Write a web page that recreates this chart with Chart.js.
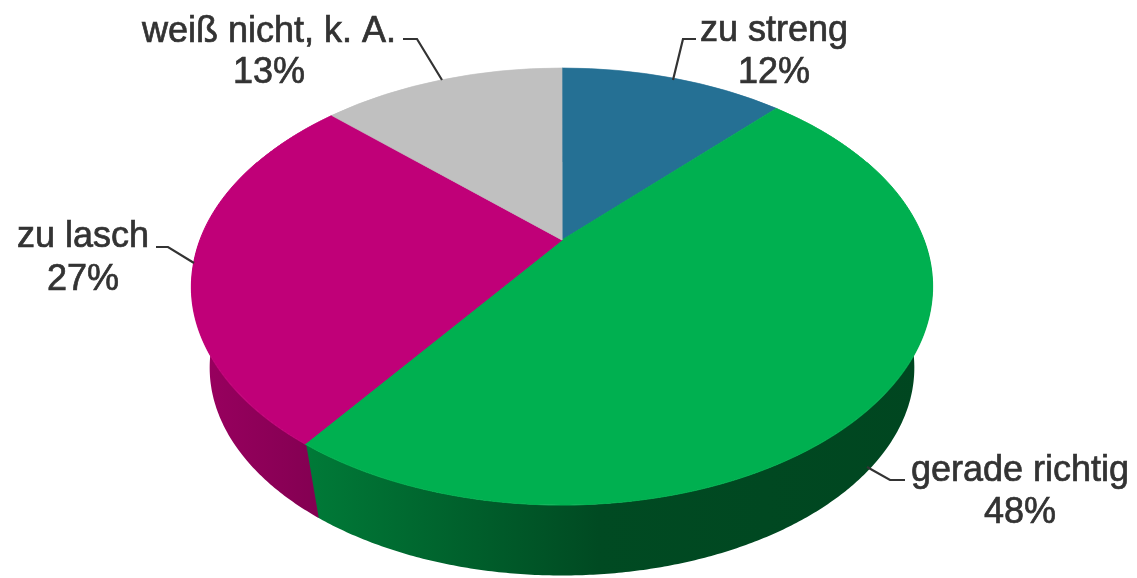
<!DOCTYPE html>
<html>
<head>
<meta charset="utf-8">
<script src="https://cdn.jsdelivr.net/npm/chart.js@4.4.1/dist/chart.umd.min.js"></script>
<style>
html,body{margin:0;padding:0;background:#fff;overflow:hidden}
#wrap{width:1137px;height:578px;position:relative}
</style>
</head>
<body>
<div id="wrap"><canvas id="c" width="1137" height="578"></canvas></div>
<script>
// ---- data ----
const categories = ['zu streng', 'gerade richtig', 'zu lasch', 'weiß nicht, k. A.'];
const values = [12, 48, 27, 13];
const percentLabels = ['12%', '48%', '27%', '13%'];
const sliceColors = ['#257094', '#00B050', '#C00078', '#C0C0C0'];

// ---- layout (screen) ----
const CX = 562, CY = 240;          // projected pie centre (apex)
const PA = 362, PB = 0.2128, PC = 208.6; // perspective parameters
const VPY = 1944, DEPTH_T = 0.049; // vertical vanishing point & wall depth fraction
const labelLayout = [
  {x: 774, y1: 41, y2: 83, line: [[673, 80], [683, 39], [696, 39]]},
  {x: 1020, y1: 481, y2: 523, line: [[867, 467], [890, 480], [905, 480]]},
  {x: 83, y1: 247, y2: 290, line: [[156, 247], [168, 247], [194, 263]]},
  {x: 269, y1: 42, y2: 83, line: [[403, 39], [417, 39], [442, 80]]}
];

function proj(u, v) { const d = 1 - PB * v; return [CX + PA * u / d, CY + PC * v / d]; }
function vOfY(Y) { const dy = Y - CY; return dy / (PC + PB * dy); }
function shade(hex, f) {
  const n = parseInt(hex.slice(1), 16);
  const r = Math.round(((n >> 16) & 255) * f), g = Math.round(((n >> 8) & 255) * f), b = Math.round((n & 255) * f);
  return 'rgb(' + r + ',' + g + ',' + b + ')';
}

const pie3d = {
  id: 'pie3d',
  beforeDatasetsDraw(chart) {
    const ctx = chart.ctx;
    const dpr = chart.currentDevicePixelRatio || 1;
    const arcs = chart.getDatasetMeta(0).data;

    // --- side walls (front half only) ---
    ctx.save();
    ctx.setTransform(dpr, 0, 0, dpr, 0, 0);
    arcs.forEach((arc, i) => {
      let lo = Math.max(arc.startAngle - 0.004, 0);
      let hi = Math.min(arc.endAngle, Math.PI);
      if (hi <= lo) return;
      const N = Math.max(10, Math.ceil((hi - lo) * 120));
      const top = [];
      for (let k = 0; k <= N; k++) {
        const a = lo + (hi - lo) * k / N;
        top.push(proj(Math.cos(a), Math.sin(a)));
      }
      ctx.beginPath();
      top.forEach((p, k) => k ? ctx.lineTo(p[0], p[1]) : ctx.moveTo(p[0], p[1]));
      for (let k = N; k >= 0; k--) {
        const p = top[k];
        ctx.lineTo(p[0] + DEPTH_T * (CX - p[0]), p[1] + DEPTH_T * (VPY - p[1]));
      }
      ctx.closePath();
      const g = ctx.createLinearGradient(192, 0, 932, 0);
      const col = chart.data.datasets[0].backgroundColor[i];
      g.addColorStop(0, shade(col, 0.80));
      g.addColorStop(0.55, shade(col, 0.42));
      g.addColorStop(1, shade(col, 0.40));
      ctx.fillStyle = g;
      ctx.fill();
    });
    ctx.restore();

    // --- top face: library arcs drawn through a perspective mapping, strip by strip ---
    const yTop = Math.floor(CY - PC / (1 + PB)) - 2;
    const yBot = Math.ceil(CY + PC / (1 - PB)) + 2;
    for (let y = yTop; y < yBot; y++) {
      const y1 = y, y2 = y + 1;
      const v1 = vOfY(y1), v2 = vOfY(y2), vm = vOfY(y + 0.5);
      const s = 1 / (1 - PB * vm);
      ctx.save();
      ctx.setTransform(dpr, 0, 0, dpr, 0, 0);
      ctx.beginPath();
      ctx.rect(0, y1, chart.width, 1);
      ctx.clip();
      arcs.forEach(arc => {
        const R = arc.outerRadius, ax = arc.x, ay = arc.y;
        const sx = PA * s / R;
        const sy = (y2 - y1) / ((v2 - v1) * R);
        const ox = CX - sx * ax;
        const oy = y1 - sy * (ay + v1 * R);
        ctx.setTransform(dpr * sx, 0, 0, dpr * sy, dpr * ox, dpr * oy);
        arc.draw(ctx);
      });
      ctx.restore();
    }
    return false;
  },
  afterDraw(chart) {
    const ctx = chart.ctx;
    ctx.save();
    ctx.strokeStyle = '#333333';
    ctx.lineWidth = 2.2;
    ctx.fillStyle = '#333333';
    ctx.font = "36px 'Liberation Sans', Arial, sans-serif";
    ctx.textAlign = 'center';
    ctx.textBaseline = 'alphabetic';
    labelLayout.forEach((L, i) => {
      ctx.lineWidth = 2.2;
      ctx.beginPath();
      L.line.forEach((p, k) => k ? ctx.lineTo(p[0], p[1]) : ctx.moveTo(p[0], p[1]));
      ctx.stroke();
      ctx.lineWidth = 0.7;
      ctx.fillText(categories[i], L.x, L.y1);
      ctx.strokeText(categories[i], L.x, L.y1);
      ctx.fillText(percentLabels[i], L.x, L.y2);
      ctx.strokeText(percentLabels[i], L.x, L.y2);
    });
    ctx.restore();
  }
};

new Chart(document.getElementById('c'), {
  type: 'pie',
  data: {
    labels: categories,
    datasets: [{
      data: values,
      backgroundColor: sliceColors,
      borderColor: sliceColors,
      borderWidth: 0.6,
      radius: 200
    }]
  },
  options: {
    responsive: false,
    devicePixelRatio: 1,
    animation: false,
    events: [],
    layout: {padding: 0},
    plugins: {legend: {display: false}, tooltip: {enabled: false}}
  },
  plugins: [pie3d]
});
</script>
</body>
</html>
